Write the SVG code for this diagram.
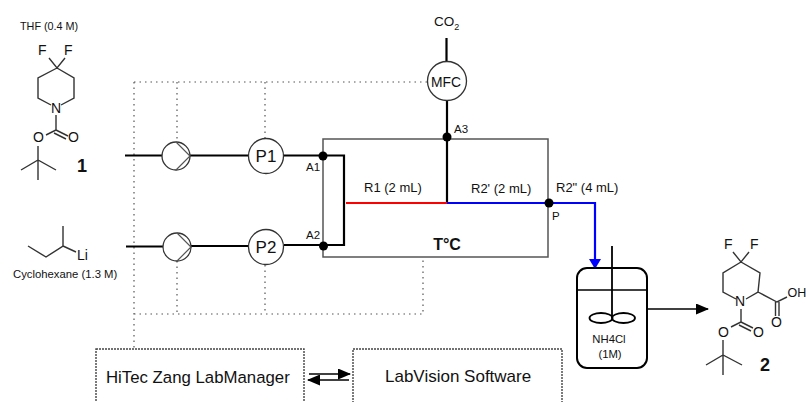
<svg xmlns="http://www.w3.org/2000/svg" width="806" height="402" viewBox="0 0 806 402">
<style>
text{font-family:"Liberation Sans",Arial,sans-serif;fill:#111}
.dot{fill:none;stroke:#555;stroke-width:1.2;stroke-dasharray:1.5 4}
.box{fill:#fff;stroke:#444;stroke-width:1.4;stroke-dasharray:2 1}
.pipe{fill:none;stroke:#000;stroke-width:2.2}
.circ{fill:#fff;stroke:#333;stroke-width:1.3}
.chev{fill:none;stroke:#555;stroke-width:1.2}
.bond{fill:none;stroke:#333;stroke-width:1.4}
.s9{font-size:11.3px}.s10{font-size:11.5px}.s12{font-size:13px}
.a{font-size:17px;text-anchor:middle}
.atom{font-size:14px}
.num{font-size:18px;font-weight:bold}
</style>
<defs>
<marker id="bh" markerUnits="userSpaceOnUse" markerWidth="10" markerHeight="12" refX="9" refY="6" orient="auto"><path d="M0 0L10 6L0 12Z" fill="#00f"/></marker>
<marker id="kh" markerUnits="userSpaceOnUse" markerWidth="13" markerHeight="11" refX="12" refY="5.500" orient="auto"><path d="M0 0L13 5.500L0 11Z" fill="#000"/></marker>
</defs>
<rect width="806" height="402" fill="#fff"/>
<g id="connectors">
<path class="dot" d="M134 82H427M134 82V349M177 82V142M265 82V138M177 261V314M265 265V314M134 314H423V258"/>
<path d="M323 139H548V257H323Z" fill="none" stroke="#555" stroke-width="1.5"/>
<path class="pipe" d="M125 155.500H163M190 155.500H249M284 155.500H344V245H284M249 246H191M126 246.500H163"/>
<path class="pipe" d="M446.500 38V62M447 100V203"/>
<path d="M346 203H447" stroke="#f00" stroke-width="2.200" fill="none"/>
<path d="M447 203H595V268" stroke="#00f" stroke-width="2.200" fill="none" marker-end="url(#bh)"/>
<path d="M647 309H708" stroke="#000" stroke-width="1.600" fill="none" marker-end="url(#kh)"/>
<path d="M309 374H350" stroke="#000" stroke-width="1.500" fill="none" marker-end="url(#kh)"/>
<path d="M349 380H308" stroke="#000" stroke-width="1.500" fill="none" marker-end="url(#kh)"/>
<circle cx="323" cy="156" r="4.500"/><circle cx="323.500" cy="246" r="4.500"/><circle cx="447" cy="137" r="4.500"/><circle cx="549" cy="203" r="4.500"/>
</g>
<g id="pump1"><circle class="circ" cx="176" cy="156" r="14"/><path class="chev" d="M176 142L190 156L176 170"/></g>
<g id="pump2"><circle class="circ" cx="177" cy="247" r="14"/><path class="chev" d="M177 233L191 247L177 261"/></g>
<g id="P1"><circle class="circ" cx="266" cy="156" r="17.500"/><text class="a" x="266" y="162">P1</text></g>
<g id="P2"><circle class="circ" cx="266" cy="247" r="17.500"/><text class="a" x="266" y="253">P2</text></g>
<g id="MFC"><circle class="circ" cx="447" cy="81" r="19.500"/><text x="431" y="87" font-size="15.500" textLength="30" lengthAdjust="spacingAndGlyphs">MFC</text></g>
<g id="reactor">
<text class="s10" x="306" y="171">A1</text><text class="s10" x="306" y="239">A2</text>
<text class="s10" x="454" y="133">A3</text><text class="s10" x="552" y="220">P</text>
<text class="s12" x="364" y="192">R1 (2 mL)</text><text class="s12" x="471" y="193">R2' (2 mL)</text>
<text class="s12" x="556" y="192">R2" (4 mL)</text>
<text x="447" y="250" font-size="16" font-weight="bold" text-anchor="middle">T°C</text>
<text x="434" y="26" font-size="13.500">CO<tspan font-size="9" dy="4">2</tspan></text>
</g>
<g id="vessel">
<rect x="577" y="268" width="70" height="100" rx="10" fill="none" stroke="#000" stroke-width="2"/>
<path d="M577 290H647" stroke="#000" stroke-width="1.600"/>
<path d="M612 246V318" stroke="#000" stroke-width="1.800"/>
<ellipse cx="601" cy="318" rx="11.500" ry="5" fill="none" stroke="#000" stroke-width="1.800"/>
<ellipse cx="623.500" cy="318" rx="11.500" ry="5" fill="none" stroke="#000" stroke-width="1.800"/>
<text class="s9" x="609" y="343" text-anchor="middle">NH4Cl</text><text class="s9" x="610" y="358" text-anchor="middle">(1M)</text>
</g>
<g id="compound1">
<text x="20" y="30" font-size="10.800">THF (0.4 M)</text>
<path class="bond" d="M49 58L57 68L65 58M57 68L38 78V98L51 105M57 68L74 78V98L61 105M56 115V130L46 135M56 130L68 136M54 133L66 139M38 146V180M21 170L38 160L56 170"/>
<g class="atom"><text x="38" y="55">F</text><text x="64" y="55">F</text><text x="51" y="113">N</text><text x="33" y="142">O</text><text x="68" y="142">O</text></g>
<text class="num" x="77" y="172">1</text>
</g>
<g id="compound-sBuLi">
<path class="bond" d="M28 246L46 257L63 246V226M63 246L76 252"/>
<text class="atom" x="77" y="260">Li</text>
<text class="s9" x="13" y="278">Cyclohexane (1.3 M)</text>
</g>
<g id="compound2">
<path class="bond" d="M733 252L741 262L749 252M741 262L723 273V292L736 299M741 262L760 273L758 292L746 299M758 292L777 302L787 297M775.500 302V316M779 302V316M741 309V322L731 327M741 322L753 328M739 325L751 331M723 340V375M706 365L723 355L742 365"/>
<g class="atom"><text x="724" y="249">F</text><text x="750" y="249">F</text><text x="735" y="306">N</text><text x="718" y="337">O</text><text x="753" y="337">O</text><text x="771" y="327">O</text><text x="787.500" y="297" font-size="12.500">OH</text></g>
<text class="num" x="760" y="371">2</text>
</g>
<g id="labmanager"><rect class="box" x="96" y="349" width="208" height="70"/><text x="106" y="383" font-size="16.800">HiTec Zang LabManager</text></g>
<g id="labvision"><rect class="box" x="353" y="349" width="209" height="70"/><text x="385" y="382" font-size="17">LabVision Software</text></g>
</svg>
